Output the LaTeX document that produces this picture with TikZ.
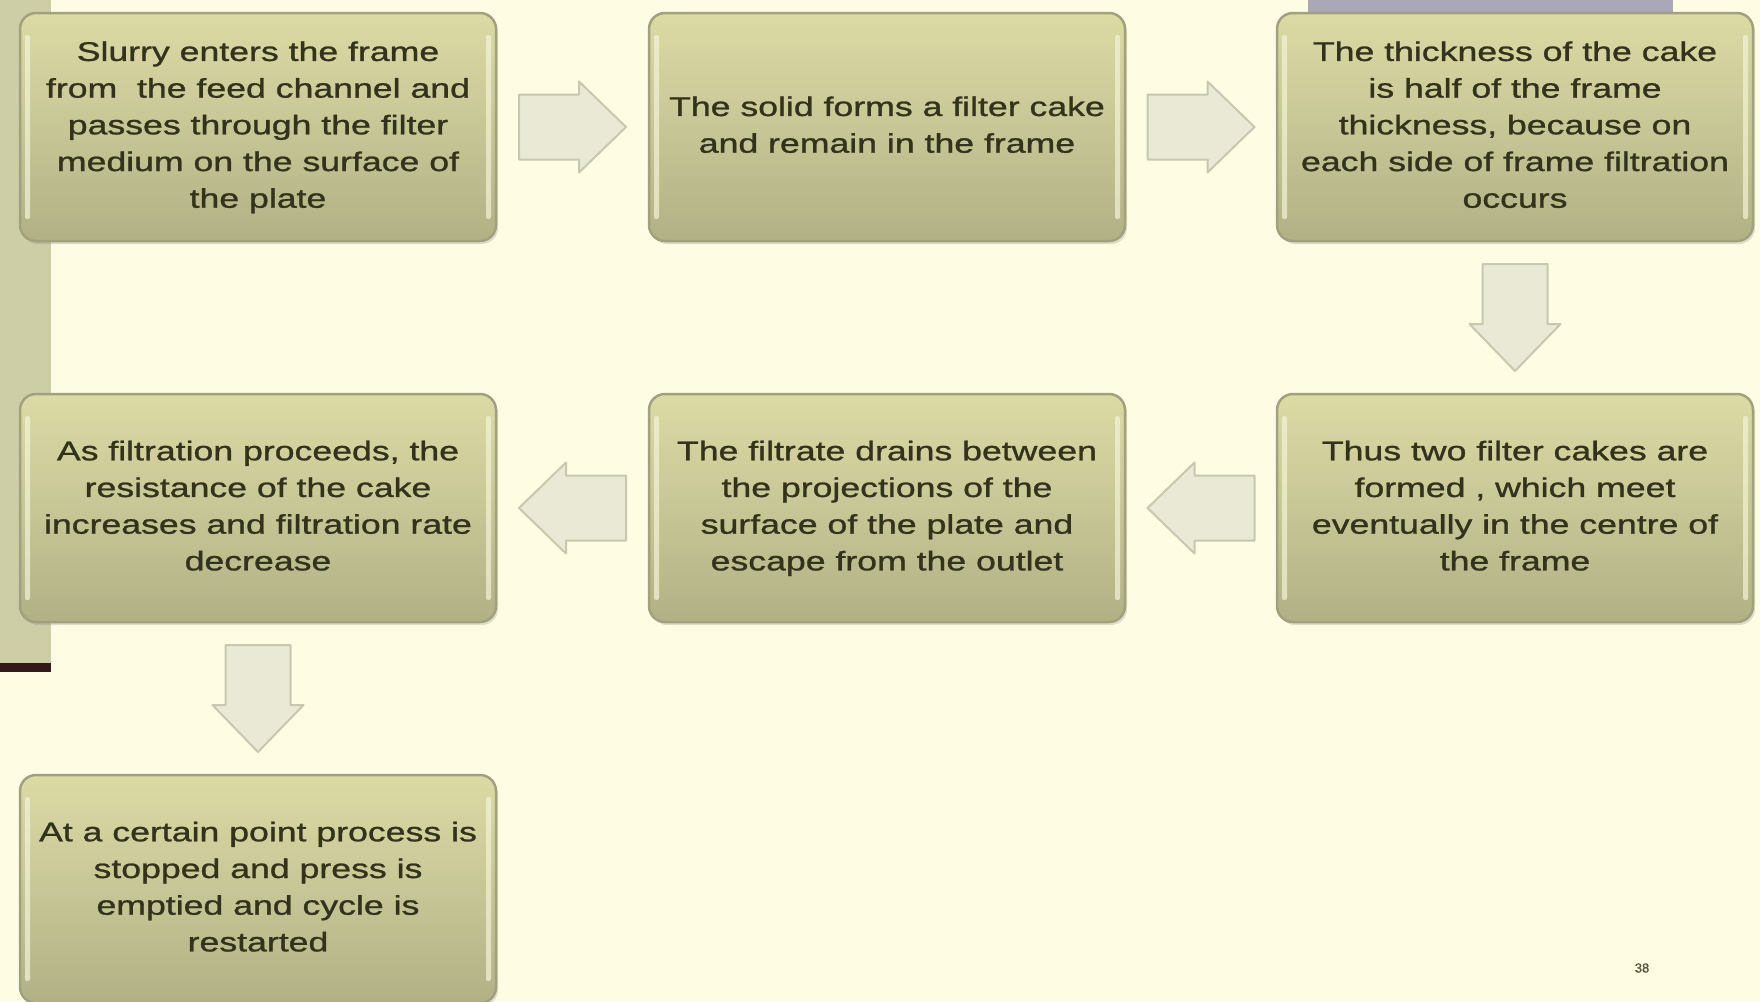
\documentclass[tikz,border=0pt]{standalone}
\usepackage{fontspec}
\setmainfont{Liberation Sans}
\newfontfamily\heavyfont[FakeBold=0.9]{Liberation Sans}
\usepackage{graphicx}
\usetikzlibrary{calc,shadows}
\definecolor{bg}{HTML}{FEFDE3}
\definecolor{boxtop}{HTML}{DCDBA5}
\definecolor{boxbot}{HTML}{B2B186}
\definecolor{boxedge}{HTML}{A2A17D}
\definecolor{hl}{HTML}{F3F3D6}
\definecolor{txtc}{HTML}{33331B}
\definecolor{arrfill}{HTML}{E9E9D5}
\definecolor{arredge}{HTML}{C8C8B0}
\definecolor{leftbar}{HTML}{CDCDA6}
\definecolor{darkline}{HTML}{33191A}
\definecolor{topbar}{HTML}{A9A7B8}
\newcommand{\boxlines}[1]{\scalebox{1.32}[1]{\begin{tabular}{@{}c@{}}#1\end{tabular}}}
\tikzset{
  stepbox/.style={rectangle, rounded corners=16pt, minimum width=476pt, minimum height=228pt,
    top color=boxtop, bottom color=boxbot, draw=boxedge, line width=2.5pt,
    text=txtc, font=\heavyfont\fontsize{27}{36.7}\selectfont, inner sep=0pt,
    drop shadow={opacity=0.25, shadow xshift=2pt, shadow yshift=-3pt},
    path picture={
      \fill[hl, opacity=0.7, rounded corners=2pt] ([xshift=5pt,yshift=-22pt]path picture bounding box.north west) rectangle ([xshift=10pt,yshift=22pt]path picture bounding box.south west);
      \fill[hl, opacity=0.7, rounded corners=2pt] ([xshift=-5pt,yshift=-22pt]path picture bounding box.north east) rectangle ([xshift=-10pt,yshift=22pt]path picture bounding box.south east);
    }},
  arrowbody/.style={fill=arrfill, draw=arredge, line width=2pt, line join=round},
  blockarrow/.pic={\draw[arrowbody] (-53.5,-32.5) -- (6.5,-32.5) -- (6.5,-45.5) -- (53.5,0) -- (6.5,45.5) -- (6.5,32.5) -- (-53.5,32.5) -- cycle;},
  pnum/.style={text=txtc!85, font=\heavyfont\fontsize{13}{15}\selectfont, inner sep=0pt}
}
\begin{document}
\begin{tikzpicture}[x=1pt,y=-1pt]
\useasboundingbox (0,0) rectangle (1760,1001);
\clip (0,0) rectangle (1760,1001);
\fill[bg] (0,0) rectangle (1760,1001);
\fill[leftbar] (0,0) rectangle (51,668);
\fill[darkline] (0,663) rectangle (51,672);
\fill[topbar] (1308,0) rectangle (1673,12);

\node[stepbox] (b1) at (258,127) {\boxlines{Slurry enters the frame\\from \ the feed channel and\\passes through the filter\\medium on the surface of\\the plate}};
\node[stepbox] (b2) at (887,127) {\boxlines{The solid forms a filter cake\\and remain in the frame}};
\node[stepbox] (b3) at (1515,127) {\boxlines{The thickness of the cake\\is half of the frame\\thickness, because on\\each side of frame filtration\\occurs}};
\node[stepbox] (b6) at (1515,508) {\boxlines{Thus two filter cakes are\\formed , which meet\\eventually in the centre of\\the frame}};
\node[stepbox] (b5) at (887,508) {\boxlines{The filtrate drains between\\the projections of the\\surface of the plate and\\escape from the outlet}};
\node[stepbox] (b4) at (258,508) {\boxlines{As filtration proceeds, the\\resistance of the cake\\increases and filtration rate\\decrease}};
\node[stepbox] (b7) at (258,889) {\boxlines{At a certain point process is\\stopped and press is\\emptied and cycle is\\restarted}};

\coordinate (m12) at ($(b1.east)!0.5!(b2.west)$);
\coordinate (m23) at ($(b2.east)!0.5!(b3.west)$);
\coordinate (m36) at ($(b3.south)!0.5!(b6.north)$);
\coordinate (m65) at ($(b6.west)!0.5!(b5.east)$);
\coordinate (m54) at ($(b5.west)!0.5!(b4.east)$);
\coordinate (m47) at ($(b4.south)!0.5!(b7.north)$);
\pic at (m12) {blockarrow};
\pic at (m23) {blockarrow};
\pic[rotate=-90] at (m36) {blockarrow};
\pic[rotate=180] at (m65) {blockarrow};
\pic[rotate=180] at (m54) {blockarrow};
\pic[rotate=-90] at (m47) {blockarrow};

\node[pnum] (pg) at (1642,968) {38};
\end{tikzpicture}
\end{document}
